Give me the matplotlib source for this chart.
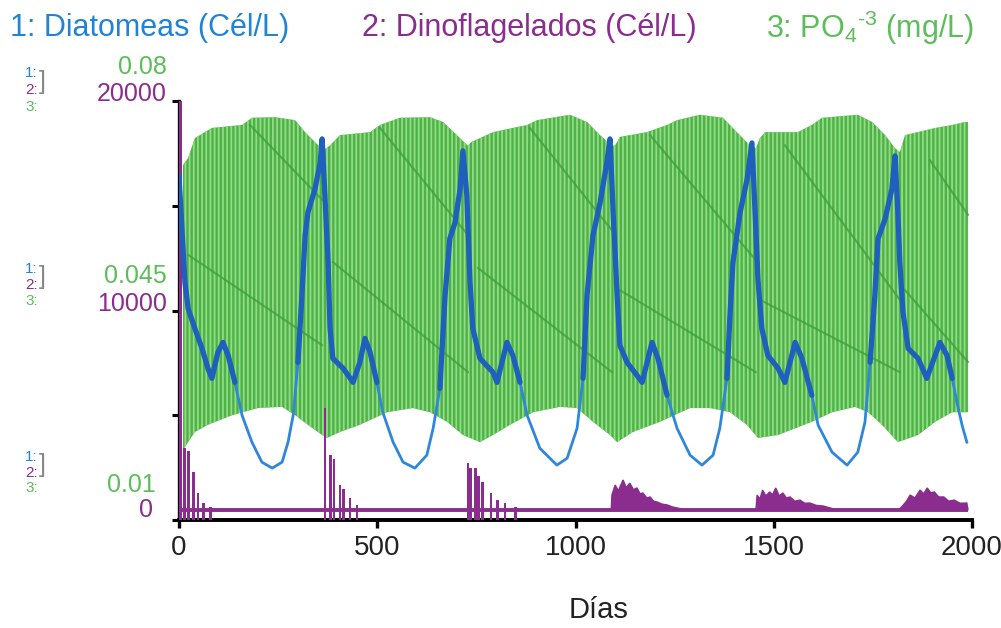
import numpy as np
import matplotlib
matplotlib.use("Agg")
import matplotlib.pyplot as plt

plt.rcParams['font.family'] = ['Liberation Sans', 'DejaVu Sans']
plt.rcParams['mathtext.fontset'] = 'custom'
plt.rcParams['mathtext.rm'] = 'Liberation Sans'
plt.rcParams['mathtext.it'] = 'Liberation Sans'
plt.rcParams['hatch.linewidth'] = 1.3

# ---- 1: Diatomeas (Cél/L) ----
diatom_day = [0, 15, 23, 40, 58, 73, 83, 98, 111, 124, 141, 159, 184, 209, 235, 260, 275, 288,
              300, 310, 318, 325, 343, 356, 361, 368, 376, 381, 388, 414, 439, 456, 469, 482,
              499, 514, 540, 565, 595, 625, 641, 658, 671, 683, 696, 709, 716, 726, 734, 741,
              759, 792, 802, 827, 842, 860, 878, 910, 953, 979, 1004, 1019, 1029, 1044, 1062,
              1079, 1087, 1095, 1105, 1112, 1130, 1155, 1168, 1193, 1208, 1231, 1256, 1289,
              1319, 1347, 1364, 1382, 1390, 1397, 1415, 1433, 1445, 1453, 1460, 1470, 1485,
              1511, 1528, 1554, 1571, 1596, 1612, 1647, 1685, 1712, 1730, 1743, 1755, 1763,
              1781, 1798, 1806, 1813, 1818, 1826, 1839, 1864, 1886, 1919, 1937, 1950, 1962,
              1975, 1987]
diatom_cells = [34500, 23800, 21200, 19200, 17200, 15200, 14200, 16800, 17800, 16500, 13800,
                10500, 7800, 5800, 5200, 5800, 7800, 10500, 15800, 22500, 28500, 30800, 33200,
                35800, 38200, 32500, 25800, 19200, 16200, 15200, 13800, 15800, 18200, 16800,
                13800, 10800, 7800, 5800, 5200, 6500, 9200, 13200, 22500, 28200, 29800, 33200,
                37000, 32500, 23800, 19200, 16200, 14800, 13800, 17800, 16500, 13800, 10500,
                7200, 5500, 6200, 9200, 14200, 22500, 28500, 31800, 35800, 38200, 30800, 22500,
                17500, 15800, 14500, 13800, 17800, 16200, 12500, 9200, 6500, 5500, 6500, 9200,
                14200, 20800, 25800, 30800, 34200, 37800, 30800, 24200, 19200, 16500, 15200,
                13800, 17800, 16200, 12500, 9500, 6800, 5500, 6800, 9800, 15800, 22500, 28200,
                30200, 33200, 36500, 30800, 25800, 20800, 17200, 16200, 14200, 17800, 16500,
                14200, 11800, 9500, 7800]

# ---- 2: Dinoflagelados (Cél/L) ----
dino_pulse_day = [3, 14, 24, 36, 48, 62, 80,
                  368, 383, 391, 406, 414, 431, 449,
                  729, 736, 748, 756, 766, 787, 804, 822, 848]
dino_pulse_cells = [20000, 3430, 3300, 2290, 1290, 810, 620,
                    5340, 3100, 2900, 1670, 1500, 1050, 720,
                    2720, 2500, 2480, 2100, 1810, 1290, 950, 810, 620]

dino_bloom_day = [
    [1090, 1092, 1100, 1108, 1120, 1128, 1137, 1146, 1155, 1163, 1170, 1180, 1188, 1197,
     1206, 1218, 1231, 1245, 1260, 1275],
    [1455, 1458, 1465, 1472, 1480, 1490, 1497, 1505, 1514, 1523, 1532, 1541, 1553, 1566,
     1578, 1591, 1607, 1624, 1645, 1660],
    [1815, 1826, 1835, 1844, 1856, 1869, 1878, 1887, 1896, 1905, 1916, 1929, 1941, 1955,
     1970, 1987, 1990],
]
dino_bloom_cells = [
    [480, 1200, 1670, 1400, 1910, 1550, 1760, 1450, 1530, 1250, 1290, 1050, 1100, 900,
     860, 760, 720, 620, 560, 480],
    [480, 1190, 1000, 1430, 1150, 1340, 1200, 1530, 1150, 1290, 1050, 1100, 900, 950,
     800, 810, 700, 670, 560, 480],
    [480, 700, 900, 1190, 1050, 1430, 1250, 1530, 1300, 1340, 1100, 1100, 900, 950,
     800, 810, 480],
]
dino_floor_day = [0, 1990]
dino_floor_cells = [480, 480]

# ---- 3: PO4 (mg/L), band of the daily oscillation ----
po4_upper_day = [10, 23, 40, 83, 159, 184, 242, 293, 318, 351, 363, 371, 381, 406, 482, 507,
                 557, 633, 666, 701, 729, 736, 759, 792, 878, 903, 986, 1029, 1062, 1092,
                 1100, 1112, 1180, 1231, 1256, 1314, 1372, 1407, 1440, 1455, 1465, 1478,
                 1561, 1596, 1622, 1712, 1748, 1781, 1806, 1818, 1831, 1907, 1950, 1982, 1990]
po4_upper = [0.0693, 0.0705, 0.0738, 0.0755, 0.0760, 0.0772, 0.0773, 0.0768, 0.0748, 0.0726,
             0.0718, 0.0721, 0.0726, 0.0743, 0.0748, 0.0760, 0.0772, 0.0773, 0.0765, 0.0743,
             0.0725, 0.0731, 0.0738, 0.0748, 0.0760, 0.0768, 0.0777, 0.0765, 0.0743, 0.0725,
             0.0726, 0.0740, 0.0748, 0.0760, 0.0768, 0.0777, 0.0772, 0.0748, 0.0726, 0.0721,
             0.0738, 0.0748, 0.0748, 0.0760, 0.0772, 0.0777, 0.0765, 0.0743, 0.0721, 0.0715,
             0.0743, 0.0755, 0.0760, 0.0765, 0.0765]
po4_lower_day = [10, 40, 73, 134, 199, 260, 293, 325, 361, 373, 406, 456, 525, 590, 633, 676,
                 716, 759, 792, 835, 893, 961, 1004, 1044, 1087, 1105, 1145, 1213, 1289, 1339,
                 1390, 1432, 1460, 1511, 1596, 1647, 1705, 1738, 1773, 1813, 1864, 1907, 1950,
                 1990]
po4_lower = [0.0217, 0.0247, 0.0259, 0.0275, 0.0287, 0.0289, 0.0275, 0.0259, 0.0242, 0.0237,
             0.0247, 0.0259, 0.0280, 0.0287, 0.0280, 0.0264, 0.0242, 0.0230, 0.0242, 0.0259,
             0.0280, 0.0289, 0.0287, 0.0264, 0.0242, 0.0230, 0.0247, 0.0264, 0.0287, 0.0287,
             0.0280, 0.0259, 0.0237, 0.0242, 0.0264, 0.0280, 0.0289, 0.0280, 0.0259, 0.0230,
             0.0242, 0.0264, 0.0280, 0.0280]

# seams of the sawtooth inside the PO4 band (start day, end day, start value, end value)
po4_seam_day0 = [179, 507, 885, 1188, 1528, 1894, 23, 388, 754, 1112, 1465, 1831]
po4_seam_day1 = [361, 729, 1092, 1455, 1818, 1990, 361, 729, 1092, 1455, 1818, 1990]
po4_seam_val0 = [0.0760, 0.0755, 0.0755, 0.0743, 0.0726, 0.0701,
                 0.0543, 0.0531, 0.0521, 0.0484, 0.0468, 0.0484]
po4_seam_val1 = [0.0635, 0.0576, 0.0584, 0.0534, 0.0468, 0.0610,
                 0.0392, 0.0347, 0.0347, 0.0347, 0.0347, 0.0364]

x_ticks = [0, 500, 1000, 1500, 2000]

BLUE_TXT = '#2183d6'
BLUE_LINE = '#1f5fbd'
BLUE_THIN = '#2f86dc'
PURPLE = '#8a2d8e'
GREEN_TXT = '#5cbd5a'
GREEN_BASE = '#4cb447'
GREEN_STRIPE = '#95da86'

W, H = 1001, 628
fig = plt.figure(figsize=(W / 100, H / 100), dpi=100)
rect = [179 / W, 1 - 520 / H, 793 / W, 419 / H]

ax_po4 = fig.add_axes(rect, zorder=1)
ax_dino = fig.add_axes(rect, zorder=2, sharex=ax_po4)
ax_dia = fig.add_axes(rect, zorder=3, sharex=ax_po4)

for a in (ax_dino, ax_dia):
    a.patch.set_visible(False)

ax_po4.set_xlim(0, 2000)
ax_po4.set_ylim(0.01, 0.08)
ax_dino.set_ylim(0, 20000)
ax_dia.set_ylim(0, 42000)

# PO4 band
band_x = np.r_[po4_upper_day, po4_lower_day[::-1]]
band_y = np.r_[po4_upper, po4_lower[::-1]]
ax_po4.fill(band_x, band_y, facecolor=GREEN_BASE, edgecolor=GREEN_STRIPE,
            hatch='||||', linewidth=0)
for d0, d1, v0, v1 in zip(po4_seam_day0, po4_seam_day1, po4_seam_val0, po4_seam_val1):
    ax_po4.plot([d0, d1], [v0, v1], color='#3c9f3a', lw=1.5, alpha=0.75)

# Dinoflagellates
ax_dino.plot(dino_floor_day, dino_floor_cells, color=PURPLE, lw=2.8, solid_capstyle='butt')
ax_dino.bar(dino_pulse_day, dino_pulse_cells, width=7, color=PURPLE, linewidth=0)
for bd, bc in zip(dino_bloom_day, dino_bloom_cells):
    ax_dino.fill(bd, bc, color=PURPLE, linewidth=1.0, edgecolor=PURPLE)

# Diatoms
dia = np.array(diatom_cells, dtype=float)
ax_dia.plot(diatom_day, dia, color=BLUE_THIN, lw=2.0, solid_joinstyle='round')
ax_dia.plot(diatom_day, np.ma.masked_less(dia, 12500), color=BLUE_LINE, lw=3.8,
            solid_joinstyle='round', solid_capstyle='round')

# axes frame
for a in (ax_po4, ax_dino, ax_dia):
    for s in a.spines.values():
        s.set_visible(False)
    a.tick_params(left=False, right=False, top=False, bottom=False,
                  labelleft=False, labelbottom=False)

ax_po4.spines['left'].set_visible(True)
ax_po4.spines['bottom'].set_visible(True)
ax_po4.spines['left'].set_linewidth(2.4)
ax_po4.spines['bottom'].set_linewidth(2.8)
ax_po4.set_xticks(x_ticks)
ax_po4.set_xticklabels([str(t) for t in x_ticks])
ax_po4.tick_params(axis='x', bottom=True, labelbottom=True, direction='out',
                   length=6, width=2.4, labelsize=20, pad=5, colors='black',
                   labelcolor='#222222')
ax_po4.set_yticks(np.linspace(0.01, 0.08, 5))
ax_po4.tick_params(axis='y', left=True, direction='out', length=5, width=2.2)


def ftext(x, y, s, **kw):
    fig.text(x / W, 1 - y / H, s, **kw)


ftext(599, 610, 'Días', color='#222222', fontsize=21, ha='center', va='center')

# series header
ftext(10, 28, '1: Diatomeas (Cél/L)', color=BLUE_TXT, fontsize=22, va='center', ha='left')
ftext(362, 28, '2: Dinoflagelados (Cél/L)', color=PURPLE, fontsize=22, va='center', ha='left')
ftext(766, 28, r'3: PO$_4$$^{\text{-3}}$ (mg/L)', color=GREEN_TXT, fontsize=22,
      va='center', ha='left')

# scale labels on the left
ftext(167, 67, '0.08', color=GREEN_TXT, fontsize=18, ha='right', va='center')
ftext(167, 94, '20000', color=PURPLE, fontsize=18, ha='right', va='center')
ftext(167, 276, '0.045', color=GREEN_TXT, fontsize=18, ha='right', va='center')
ftext(167, 304, '10000', color=PURPLE, fontsize=18, ha='right', va='center')
ftext(156, 485, '0.01', color=GREEN_TXT, fontsize=18, ha='right', va='center')
ftext(153, 510, '0', color=PURPLE, fontsize=18, ha='right', va='center')

# series keys beside each scale
for ys in ((73, 90, 107), (269, 285, 301), (457, 473, 488)):
    for yy, lab, col in zip(ys, ('1:', '2:', '3:'), (BLUE_TXT, PURPLE, GREEN_TXT)):
        ftext(25, yy, lab, color=col, fontsize=11, ha='left', va='center')
    ftext(39, (ys[0] + ys[1]) / 2, ']', color='#888888', fontsize=18, ha='left', va='center')

fig.savefig('out.png', dpi=100)
